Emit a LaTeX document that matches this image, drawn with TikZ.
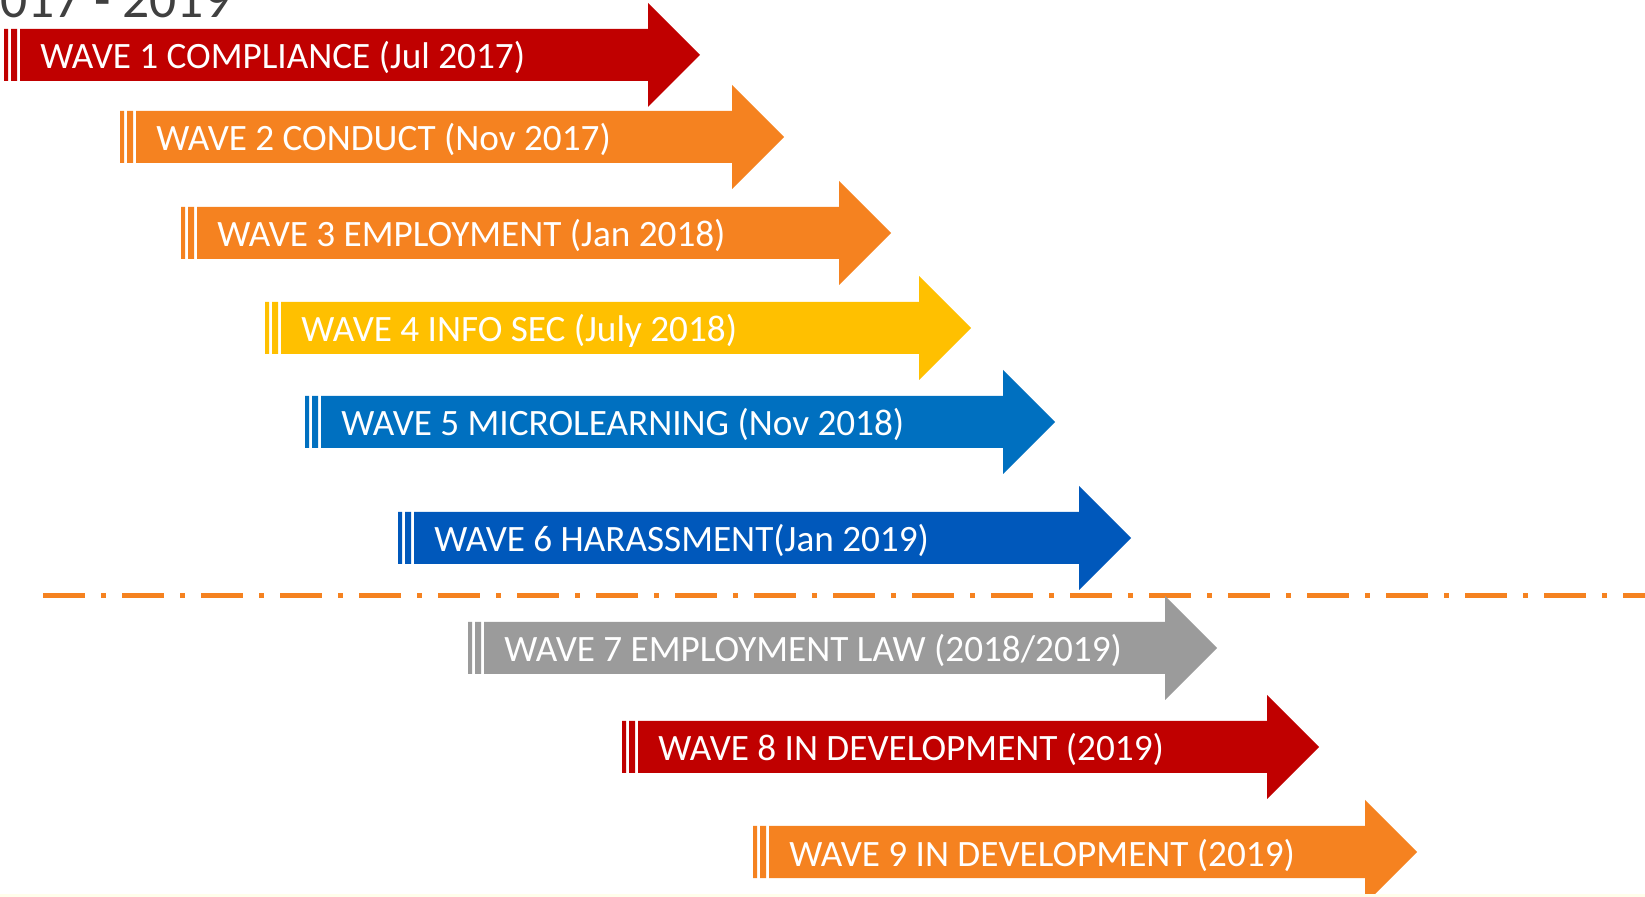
\documentclass[tikz,border=0pt]{standalone}
\usepackage{fontspec}
\setmainfont{Carlito}
\usepackage{tikz}

\definecolor{waveRed}{HTML}{C00000}
\definecolor{waveOrange}{HTML}{F58220}
\definecolor{waveYellow}{HTML}{FFC000}
\definecolor{waveBlue}{HTML}{0070C0}
\definecolor{waveDarkBlue}{HTML}{0058BB}
\definecolor{waveGray}{HTML}{9B9B9B}
\definecolor{titleGray}{HTML}{404040}

% #1 name, #2 tail x, #3 head x, #4 centre y, #5 colour, #6 label
\newcommand{\wave}[6]{%
  \fill[#5] (#2,#4-26) rectangle (#2+4,#4+26)
            (#2+7,#4-26) rectangle (#2+13,#4+26)
            (#2+16,#4-26) -- (#3,#4-26) -- (#3,#4-52) -- (#3+52,#4)
            -- (#3,#4+52) -- (#3,#4+26) -- (#2+16,#4+26) -- cycle;
  \node[wavetext] (#1) at (#2+36,#4+14) {#6};
}

\begin{document}
\begin{tikzpicture}[x=0.5pt, y=-0.5pt,
                    wavetext/.style={anchor=base west, inner sep=0pt, text=white,
                                     font=\fontsize{18.6pt}{22pt}\selectfont},
                    cutline/.style={waveOrange, line width=2.5pt,
                                    dash pattern=on 21pt off 8pt on 2.5pt off 8pt}]

\useasboundingbox (0,0) rectangle (1645,897);
\fill[white] (0,0) rectangle (1645,897);

\node[anchor=base west, inner sep=0pt, text=titleGray,
      font=\fontsize{26.8pt}{30pt}\selectfont] (title) at (0,18) {017 - 2019};

\wave{w1}{4}{648}{55}{waveRed}{WAVE 1 COMPLIANCE (Jul 2017)}
\wave{w2}{120}{732}{137}{waveOrange}{WAVE 2 CONDUCT (Nov 2017)}
\wave{w3}{181}{839}{233}{waveOrange}{WAVE 3 EMPLOYMENT (Jan 2018)}
\wave{w4}{265}{919}{328}{waveYellow}{WAVE 4 INFO SEC (July 2018)}
\wave{w5}{305}{1003}{422}{waveBlue}{WAVE 5 MICROLEARNING (Nov 2018)}
\wave{w6}{398}{1079}{538}{waveDarkBlue}{WAVE 6 HARASSMENT(Jan 2019)}

% cut-off line
\coordinate (cutL) at (43,596);
\coordinate (cutR) at (1645,596);
\draw[cutline] (cutL) -- (cutR);

\wave{w7}{468}{1165}{648}{waveGray}{WAVE 7 EMPLOYMENT LAW (2018/2019)}
\wave{w8}{622}{1267}{747}{waveRed}{WAVE 8 IN DEVELOPMENT (2019)}
\wave{w9}{753}{1365}{852}{waveOrange}{WAVE 9 IN DEVELOPMENT (2019)}

\fill[yellow!8] (0,894) rectangle (1645,897);
\end{tikzpicture}
\end{document}
